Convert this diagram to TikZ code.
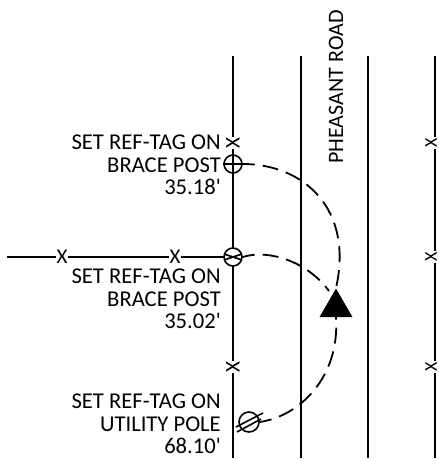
\documentclass[tikz,border=0pt]{standalone}
\usepackage{fontspec}
\setmainfont{Carlito}
\usetikzlibrary{shapes.geometric}
\tikzset{
  tag/.style = {font = \fontsize{22.6}{22.5}\selectfont, align = right, anchor = east, inner sep = 0pt},
  fencex/.style = {fill = white, font = \fontsize{21}{21}\selectfont, inner sep = 1pt},
  sidex/.style = {fencex, font = \fontsize{18}{18}\selectfont, rotate = 90},
  post/.style = {draw, circle, minimum size = 18pt, inner sep = 0pt, line width = 1.6pt},
  road/.style = {line width = 1.8pt},
  tagarc/.style = {line width = 1.8pt, dash pattern = on 16pt off 8pt, dash phase = 4pt}
}
\begin{document}
\begin{tikzpicture}[x = 1pt, y = -1pt]
\useasboundingbox (0,0) rectangle (439,459);
\coordinate (w0) at (233,56);
\coordinate (w1) at (233,458);
\coordinate (c0) at (301,56);
\coordinate (c1) at (301,458);
\coordinate (e0) at (368,56);
\coordinate (e1) at (368,458);
\coordinate (f0) at (435,56);
\coordinate (f1) at (435,458);
\coordinate (h0) at (7,257);
\coordinate (arcend) at (329,291);
\draw[road] (w0) -- (w1);
\draw[road] (c0) -- (c1);
\draw[road] (e0) -- (e1);
\draw[road] (f0) -- (f1);
\draw[road] (h0) -- (233,257);
\node[post, fill = white] (post1) at (233,164) {};
\draw[line width = 1.6pt] (post1.west) -- (post1.east);
\draw[line width = 1.6pt] (post1.north) -- (post1.south);
\node[post, fill = white, path picture = {
  \draw[line width = 1.6pt] ([shift = {(-9,-3)}]path picture bounding box.center) -- ([shift = {(9,3)}]path picture bounding box.center);
  \draw[line width = 1.6pt] ([shift = {(9,-3)}]path picture bounding box.center) -- ([shift = {(-9,3)}]path picture bounding box.center);
}] (post2) at (233,257) {};
\node[post, minimum size = 20pt] (post3) at (249,422) {};
\draw[line width = 1.6pt] (236,427) -- (263,413);
\draw[line width = 1.6pt] (237,432) -- (261,419);
\node[fencex] (x1) at (62,257) {X};
\node[fencex] (x2) at (175,257) {X};
\node[fencex, rotate = 90] (x3) at (233,143) {X};
\node[fencex, rotate = 90] (x4) at (233,367) {X};
\node[sidex] (x5) at (431,143) {X};
\node[sidex] (x6) at (431,257) {X};
\node[sidex] (x7) at (431,367) {X};
\node[regular polygon, regular polygon sides = 3, fill = black, minimum size = 38pt, inner sep = 0pt] (tri) at (336,307.5) {};
\draw[tagarc] (post1.east) .. controls +(60,0) and +(18,-80) .. (tri.north);
\draw[tagarc] (post2.east) .. controls +(25,-8) and +(-22,-30) .. (arcend);
\draw[tagarc] (post3.east) .. controls +(40,-6) and +(4,60) .. (tri.south);
\node[tag] (tag1) at (221,165) {SET REF-TAG ON\\BRACE POST\\35.18\textquotesingle};
\node[tag] (tag2) at (221,299) {SET REF-TAG ON\\BRACE POST\\35.02\textquotesingle};
\node[tag] (tag3) at (221,424) {SET REF-TAG ON\\UTILITY POLE\\68.10\textquotesingle};
\node[font = \fontsize{22}{23}\selectfont, rotate = 90, inner sep = 0pt] (road) at (336,87) {PHEASANT ROAD};
\end{tikzpicture}
\end{document}
